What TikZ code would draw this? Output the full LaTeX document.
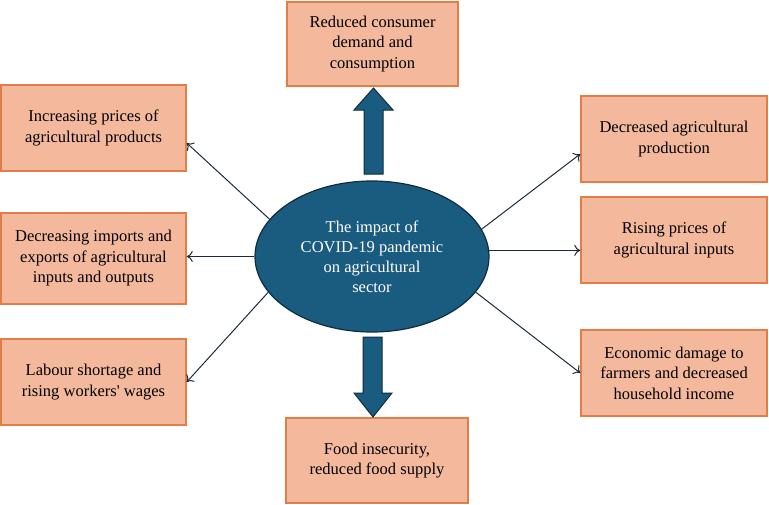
\documentclass[tikz,border=0pt]{standalone}
\usepackage{fontspec}
\setmainfont{Liberation Serif}
\usetikzlibrary{arrows.meta,calc,shapes.geometric}

\definecolor{boxfill}{HTML}{F4B99C}
\definecolor{boxline}{HTML}{E07E45}
\definecolor{hubfill}{HTML}{1A5B80}
\definecolor{hubline}{HTML}{0F2D3F}
\definecolor{linkcol}{HTML}{1C2B3A}

\tikzset{
  effect/.style={draw=boxline, fill=boxfill, line width=1.5pt, align=center,
    inner sep=0pt, minimum width=185pt, minimum height=86pt,
    font=\fontsize{16.5}{20.5}\selectfont},
  hub/.style={ellipse, draw=hubline, fill=hubfill, line width=1.2pt, text=white,
    align=center, inner sep=0pt, minimum width=234pt, minimum height=151pt,
    font=\fontsize{16.5}{20}\selectfont},
  link/.style={draw=linkcol, line width=1pt, -{To[length=6pt,width=11pt]}},
  bigarrow/.style={fill=hubfill, draw=hubline, line width=1pt, line join=miter}
}

\begin{document}
\begin{tikzpicture}[x=1pt, y=-1pt]
  \useasboundingbox (0,0) rectangle (769,504);
  % centre
  \node[hub] (ell) at (372,256.5) {The impact of\\COVID-19 pandemic\\on agricultural\\sector};
  % boxes
  \node[effect, minimum width=171pt, minimum height=84pt] (top) at (372.5,44) {Reduced consumer\\demand and\\consumption};
  \node[effect, minimum width=182pt, minimum height=85pt] (bot) at (377,460.5) {Food insecurity,\\reduced food supply};
  \node[effect] (l1) at (93.5,128) {Increasing prices of\\agricultural products};
  \node[effect, minimum height=91pt] (l2) at (93.5,258.5) {Decreasing imports and\\exports of agricultural\\inputs and outputs};
  \node[effect] (l3) at (93.5,382) {Labour shortage and\\rising workers\textquotesingle\ wages};
  \node[effect, minimum width=186pt] (r1) at (674,139) {Decreased agricultural\\production};
  \node[effect, minimum width=186pt] (r2) at (674,240) {Rising prices of\\agricultural inputs};
  \node[effect, minimum width=186pt] (r3) at (674,373) {Economic damage to\\farmers and decreased\\household income};
  % block arrows up and down
  \draw[bigarrow] (364,174) -- (364,110) -- (354,110) -- (373.5,88) -- (393,110) -- (383,110) -- (383,174) -- cycle;
  \draw[bigarrow] (363,337) -- (363,393) -- (354,393) -- (373,417) -- (392,393) -- (382,393) -- (382,337) -- cycle;
  % thin arrows
  \draw[link] (ell.160) -- ([yshift=-15pt]l1.east);
  \draw[link] (ell.west) -- (ell.west -| l2.east);
  \draw[link] (ell.199) -- (l3.east);
  \draw[link] (ell.14) -- ([yshift=-15pt]r1.west);
  \draw[link] (ell.3) -- (ell.3 -| r2.west);
  \draw[link] (ell.341) -- (r3.west);
\end{tikzpicture}
\end{document}
